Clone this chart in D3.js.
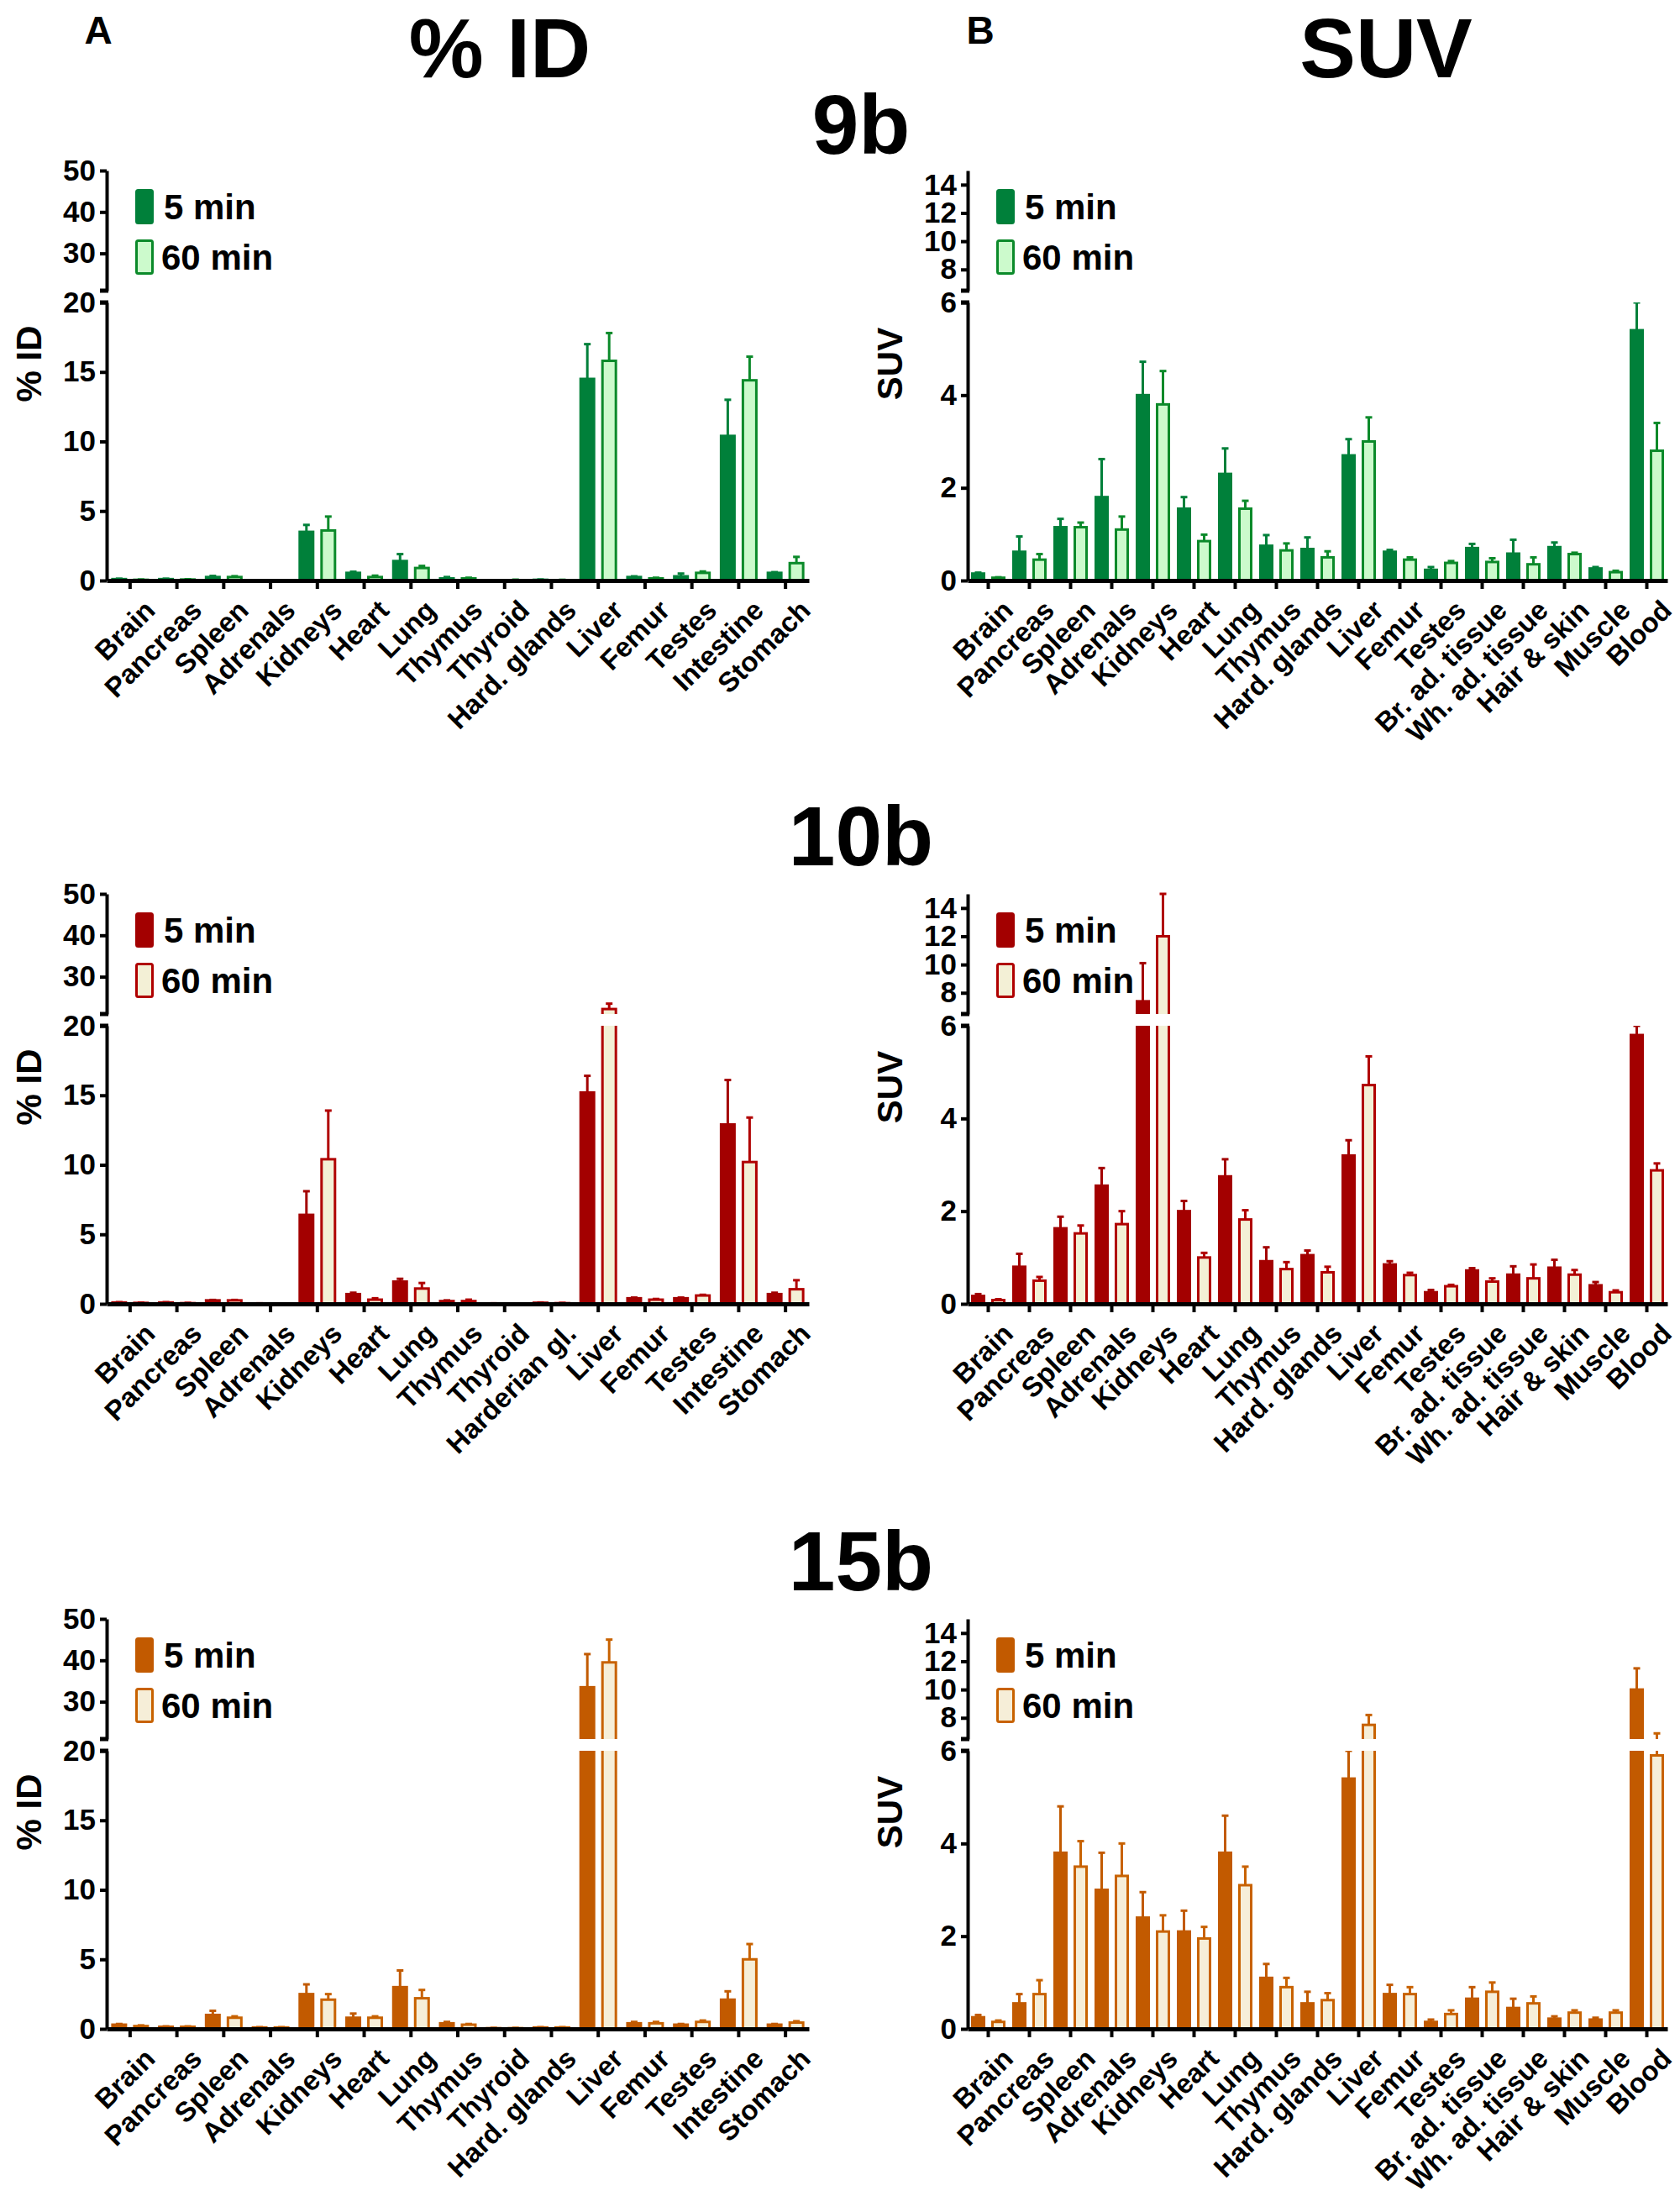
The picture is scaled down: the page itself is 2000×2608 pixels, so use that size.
<!DOCTYPE html>
<html><head><meta charset="utf-8">
<script src="https://cdn.jsdelivr.net/npm/d3@7"></script>
<style>body{margin:0;background:#fff}svg{font-family:"Liberation Sans",Arial,sans-serif;font-weight:bold}</style>
</head><body><svg id="c" width="2000" height="2608"></svg>
<script>
const catsID9 = ["Brain","Pancreas","Spleen","Adrenals","Kidneys","Heart","Lung","Thymus","Thyroid","Hard. glands","Liver","Femur","Testes","Intestine","Stomach"];
const catsID10 = ["Brain","Pancreas","Spleen","Adrenals","Kidneys","Heart","Lung","Thymus","Thyroid","Harderian gl.","Liver","Femur","Testes","Intestine","Stomach"];
const catsSUV = ["Brain","Pancreas","Spleen","Adrenals","Kidneys","Heart","Lung","Thymus","Hard. glands","Liver","Femur","Testes","Br. ad. tissue","Wh. ad. tissue","Hair & skin","Muscle","Blood"];
const ticksIDlow=[0,5,10,15,20], ticksIDup=[30,40,50], ticksSUVlow=[0,2,4,6], ticksSUVup=[8,10,12,14];
const seriesLabels=["5 min","60 min"];

const id9_5  =[0.1,0.1,0.25,0.02,3.5,0.55,1.4,0.15,0.02,0.05,14.5,0.25,0.3,10.4,0.55];
const id9_5e =[0.03,0.03,0.08,0.01,0.5,0.08,0.5,0.1,0.01,0.02,2.5,0.05,0.2,2.6,0.05];
const id9_60 =[0.05,0.07,0.25,0.02,3.6,0.25,0.9,0.15,0.03,0.03,15.8,0.15,0.55,14.4,1.25];
const id9_60e=[0.02,0.02,0.06,0.01,1.0,0.1,0.15,0.05,0.03,0.02,2.0,0.05,0.1,1.7,0.45];
const suv9_5  =[0.15,0.62,1.15,1.8,4.0,1.55,2.3,0.75,0.68,2.7,0.62,0.23,0.7,0.58,0.72,0.26,5.4];
const suv9_5e =[0.02,0.33,0.18,0.82,0.72,0.25,0.55,0.23,0.25,0.35,0.04,0.06,0.09,0.3,0.1,0.03,0.6];
const suv9_60 =[0.06,0.45,1.15,1.1,3.8,0.85,1.55,0.65,0.5,3.0,0.45,0.38,0.4,0.35,0.57,0.18,2.8];
const suv9_60e=[0.01,0.12,0.1,0.28,0.72,0.14,0.17,0.15,0.13,0.52,0.05,0.04,0.08,0.15,0.03,0.03,0.6];

const id10_5  =[0.1,0.1,0.25,0.03,6.4,0.7,1.6,0.2,0.03,0.08,15.2,0.4,0.4,12.9,0.7];
const id10_5e =[0.02,0.02,0.03,0.01,1.7,0.1,0.2,0.05,0.01,0.02,1.2,0.05,0.05,3.2,0.1];
const id10_60 =[0.07,0.05,0.25,0.01,10.4,0.3,1.1,0.2,0.02,0.05,22.2,0.3,0.6,10.2,1.05];
const id10_60e=[0.02,0.02,0.03,0.01,3.5,0.1,0.4,0.1,0.01,0.02,1.3,0.05,0.05,3.2,0.65];
const suv10_5  =[0.17,0.8,1.63,2.55,7.4,2.0,2.75,0.92,1.05,3.2,0.85,0.25,0.72,0.63,0.78,0.4,5.8];
const suv10_5e =[0.04,0.28,0.25,0.38,2.7,0.22,0.37,0.3,0.1,0.33,0.07,0.05,0.05,0.18,0.17,0.07,0.2];
const suv10_60 =[0.08,0.5,1.52,1.72,12.0,1.0,1.82,0.75,0.68,4.72,0.62,0.38,0.48,0.55,0.63,0.25,2.88];
const suv10_60e=[0.02,0.08,0.17,0.28,3.0,0.1,0.2,0.15,0.12,0.62,0.05,0.03,0.07,0.3,0.1,0.04,0.15];

const id15_5  =[0.3,0.15,1.0,0.1,2.5,0.8,3.0,0.4,0.05,0.1,33.5,0.4,0.3,2.1,0.3];
const id15_5e =[0.05,0.03,0.3,0.02,0.7,0.3,1.2,0.1,0.02,0.02,8.0,0.1,0.05,0.6,0.05];
const id15_60 =[0.2,0.15,0.8,0.1,2.1,0.8,2.2,0.3,0.05,0.1,39.5,0.4,0.5,5.0,0.45];
const id15_60e=[0.05,0.03,0.1,0.02,0.4,0.1,0.6,0.05,0.02,0.02,5.5,0.1,0.1,1.1,0.1];
const suv15_5  =[0.25,0.55,3.8,3.0,2.4,2.1,3.8,1.1,0.55,5.4,0.75,0.15,0.65,0.45,0.22,0.2,10.0];
const suv15_5e =[0.05,0.2,1.0,0.8,0.55,0.45,0.8,0.3,0.25,0.6,0.2,0.05,0.25,0.2,0.05,0.04,1.5];
const suv15_60 =[0.15,0.75,3.5,3.3,2.1,1.95,3.1,0.9,0.62,7.5,0.75,0.32,0.8,0.55,0.35,0.35,5.9];
const suv15_60e=[0.03,0.3,0.55,0.7,0.35,0.25,0.4,0.2,0.15,0.7,0.15,0.08,0.2,0.15,0.05,0.05,1.0];

const svg=d3.select("#c");
const T=(x,y,s,t,anchor)=>svg.append("text").attr("x",x).attr("y",y).attr("font-size",s).attr("text-anchor",anchor||"middle").text(t);
T(117,52,46,"A"); T(1167,52,46,"B");
T(595,92,100,"% ID"); T(1650,92,100,"SUV");
T(1025,183,100,"9b"); T(1025,1030,100,"10b"); T(1025,1893,100,"15b");

let clipN=0;
function panel(x0,x1,y0,cats,m5,e5,m60,e60,lowDom,upDom,lowT,upT,ylab,c5,c60f,c60s,bw){
  const g=svg.append("g");
  const x=d3.scaleBand().domain(cats).range([x0,x1]);
  const yl=d3.scaleLinear().domain(lowDom).range([y0,y0-331]);
  const yu=d3.scaleLinear().domain(upDom).range([y0-345,y0-488]);
  const segs=[{y:yl,top:y0-331,bot:y0+2},{y:yu,top:y0-500,bot:y0-345}];
  const series=[{m:m5,e:e5,f:c5,s:c5,off:-bw-3.5},{m:m60,e:e60,f:c60f,s:c60s,off:3.5}];
  segs.forEach(sg=>{
    const id="cl"+(clipN++);
    svg.append("clipPath").attr("id",id).append("rect").attr("x",x0).attr("y",sg.top).attr("width",x1-x0).attr("height",sg.bot-sg.top);
    const sgG=g.append("g").attr("clip-path",`url(#${id})`);
    series.forEach(se=>{
      const cx=d=>x(d)+x.bandwidth()/2+se.off;
      const yy=sg.y;
      sgG.selectAll(null).data(cats).join("line")
        .attr("x1",(d)=>cx(d)+bw/2).attr("x2",(d)=>cx(d)+bw/2)
        .attr("y1",(d,i)=>yy(se.m[i])).attr("y2",(d,i)=>yy(se.m[i]+se.e[i]))
        .attr("stroke",se.s).attr("stroke-width",3);
      sgG.selectAll(null).data(cats).join("line")
        .attr("x1",(d)=>cx(d)+bw/2-4).attr("x2",(d)=>cx(d)+bw/2+4)
        .attr("y1",(d,i)=>yy(se.m[i]+se.e[i])).attr("y2",(d,i)=>yy(se.m[i]+se.e[i]))
        .attr("stroke",se.s).attr("stroke-width",3);
      sgG.selectAll(null).data(cats).join("rect")
        .attr("x",d=>cx(d)+1.5).attr("width",bw-3)
        .attr("y",(d,i)=>Math.min(yy(se.m[i]),y0+5)).attr("height",(d,i)=>Math.max(0,y0+5-yy(se.m[i])))
        .attr("fill",se.f).attr("stroke",se.s).attr("stroke-width",3);
    });
  });
  const fmt=d3.format("d");
  const axL=g.append("g").attr("transform",`translate(${x0},0)`).call(d3.axisLeft(yl).tickValues(lowT).tickFormat(fmt).tickSize(8).tickSizeOuter(0));
  const axU=g.append("g").attr("transform",`translate(${x0},0)`).call(d3.axisLeft(yu).tickValues(upT).tickFormat(fmt).tickSize(8).tickSizeOuter(0));
  [axL,axU].forEach(a=>{a.select(".domain").attr("stroke-width",4);a.selectAll(".tick line").attr("stroke-width",4);
    a.selectAll("text").attr("font-size",35).attr("font-family","Liberation Sans, Arial").attr("font-weight","bold").attr("dx",-2).attr("fill","#000");});
  [y0-331,y0-345].forEach(v=>g.append("line").attr("x1",x0-8).attr("x2",x0+2).attr("y1",v).attr("y2",v).attr("stroke","#000").attr("stroke-width",5));
  const axB=g.append("g").attr("transform",`translate(0,${y0})`).call(d3.axisBottom(x).tickSize(10).tickSizeOuter(0));
  axB.select(".domain").attr("stroke-width",5);
  axB.selectAll(".tick line").attr("stroke-width",4);
  axB.selectAll("text").attr("font-size",33).attr("font-family","Liberation Sans, Arial").attr("font-weight","bold").attr("fill","#000")
     .attr("text-anchor","end").attr("transform","translate(6,12) rotate(-45)").attr("dy","0.7em");
  g.append("text").attr("transform",`translate(${x0-78},${y0-258}) rotate(-90)`).attr("text-anchor","middle").attr("font-size",42).text(ylab);
  const lx=x0+34, ly=y0-466;
  g.append("rect").attr("x",lx+1.5).attr("y",ly+1.5).attr("width",19).attr("height",39).attr("fill",c5).attr("stroke",c5).attr("stroke-width",3).attr("rx",2);
  g.append("rect").attr("x",lx+1.5).attr("y",ly+61.5).attr("width",19).attr("height",39).attr("fill",c60f).attr("stroke",c60s).attr("stroke-width",3).attr("rx",2);
  g.append("text").attr("x",lx+34).attr("y",ly+36).attr("font-size",42).text(seriesLabels[0]);
  g.append("text").attr("x",lx+31).attr("y",ly+96).attr("font-size",42).text(seriesLabels[1]);
}
const G=["#00803a","#ccfacc","#0b8a2a"], R=["#a30000","#f3f0d6","#b00000"], O=["#c25a00","#f6eed8","#c86200"];
const rows=[691,1552,2415];
[[catsID9,id9_5,id9_5e,id9_60,id9_60e,suv9_5,suv9_5e,suv9_60,suv9_60e,G],
 [catsID10,id10_5,id10_5e,id10_60,id10_60e,suv10_5,suv10_5e,suv10_60,suv10_60e,R],
 [catsID9,id15_5,id15_5e,id15_60,id15_60e,suv15_5,suv15_5e,suv15_60,suv15_60e,O]].forEach((r,i)=>{
  panel(127,963,rows[i],r[0],r[1],r[2],r[3],r[4],[0,20],[21,50],ticksIDlow,ticksIDup,"% ID",r[9][0],r[9][1],r[9][2],19);
  panel(1152,1985,rows[i],catsSUV,r[5],r[6],r[7],r[8],[0,6],[6.5,15],ticksSUVlow,ticksSUVup,"SUV",r[9][0],r[9][1],r[9][2],17);
});
</script></body></html>
